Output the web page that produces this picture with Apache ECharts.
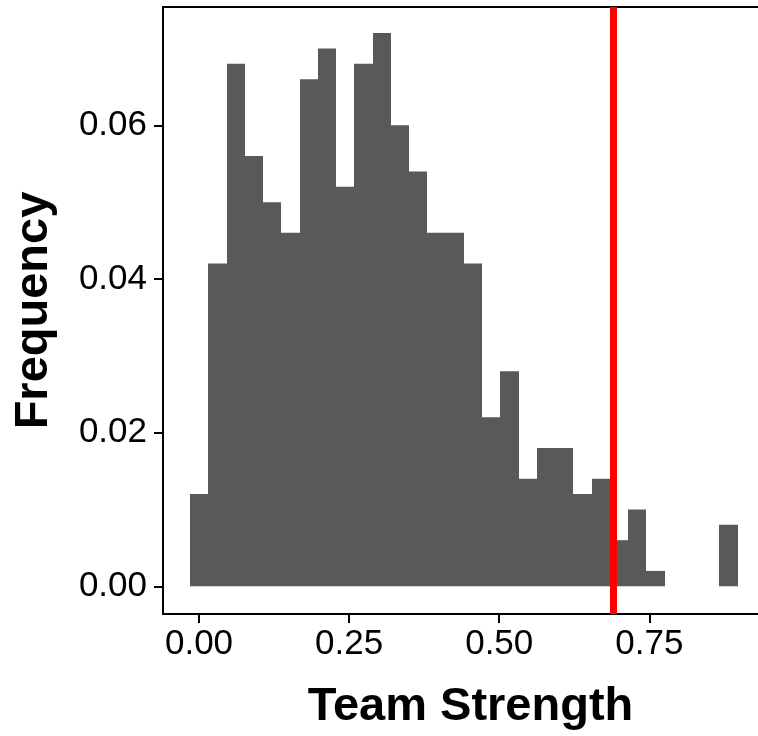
<!DOCTYPE html>
<html>
<head>
<meta charset="utf-8">
<script src="https://cdn.jsdelivr.net/npm/echarts@6/dist/echarts.min.js"></script>
<style>
  html, body {margin: 0; padding: 0; background: #fff;}
  #chart {width: 758px; height: 736px;}
</style>
</head>
<body>
<div id="chart"></div>
<script>
// histogram: 30 bins
const binStart = -0.0150;
const binWidth = 0.0304;
const frequency = [
  0.012, 0.042, 0.068, 0.056, 0.050, 0.046, 0.066, 0.070, 0.052, 0.068,
  0.072, 0.060, 0.054, 0.046, 0.046, 0.042, 0.022, 0.028, 0.014, 0.018,
  0.018, 0.012, 0.014, 0.006, 0.010, 0.002, 0, 0, 0, 0.008,
];
const markerValue = 0.689;
const xTicks = [0, 0.25, 0.5, 0.75];
const yTicks = [0, 0.02, 0.04, 0.06];

const fontFamily = '"Liberation Sans", Arial, sans-serif';

const binData = frequency.map((f, i) => [binStart + i * binWidth, binStart + (i + 1) * binWidth, f]);

const chart = echarts.init(document.getElementById('chart'), null, {renderer: 'canvas'});

// the panel runs up to the right edge of the picture, no right border
chart.setOption({
  animation: false,
  grid: {left: 163, right: 0, top: 7, bottom: 118, show: false, borderWidth: 0},
  xAxis: [{
    type: 'value',
    min: -0.06,
    max: 0.931,
    splitLine: {show: false},
    axisLine: {onZero: false, lineStyle: {color: '#000', width: 2}},
    axisTick: {customValues: xTicks, length: 9, lineStyle: {color: '#000', width: 2}},
    axisLabel: {
      customValues: xTicks,
      formatter: (v) => v.toFixed(2),
      color: '#000',
      fontSize: 35,
      fontFamily,
      margin: 13,
    },
    name: 'Team Strength',
    nameLocation: 'middle',
    nameGap: 70,
    nameTextStyle: {fontSize: 47, fontWeight: 'bold', color: '#000', fontFamily, padding: [0, 0, 0, 20]},
  }, {
    // top border of the panel
    type: 'value',
    position: 'top',
    min: -0.06,
    max: 0.931,
    splitLine: {show: false},
    axisLine: {show: true, onZero: false, lineStyle: {color: '#000', width: 2}},
    axisTick: {show: false},
    axisLabel: {show: false},
  }],
  yAxis: {
    type: 'value',
    min: -0.00361,
    max: 0.0754,
    splitLine: {show: false},
    axisLine: {show: true, onZero: false, lineStyle: {color: '#000', width: 2}},
    axisTick: {show: true, customValues: yTicks, length: 9, lineStyle: {color: '#000', width: 2}},
    axisLabel: {
      customValues: yTicks,
      formatter: (v) => v.toFixed(2),
      color: '#000',
      fontSize: 35,
      fontFamily,
      margin: 16,
    },
    name: 'Frequency',
    nameLocation: 'middle',
    nameGap: 105,
    nameTextStyle: {fontSize: 47, fontWeight: 'bold', color: '#000', fontFamily},
  },
  series: [{
    type: 'custom',
    xAxisIndex: 0,
    data: binData,
    renderItem: (params, api) => {
      const topLeft = api.coord([api.value(0), api.value(2)]);
      const bottomRight = api.coord([api.value(1), 0]);
      const x0 = Math.round(topLeft[0]);
      const x1 = Math.round(bottomRight[0]);
      return {
        type: 'rect',
        shape: {
          x: x0,
          y: topLeft[1],
          width: x1 - x0,
          height: bottomRight[1] - topLeft[1],
        },
        style: {fill: '#595959'},
      };
    },
    markLine: {
      silent: true,
      symbol: 'none',
      label: {show: false},
      lineStyle: {color: '#ff0000', width: 7, type: 'solid'},
      data: [{xAxis: markerValue}],
    },
  }],
});
</script>
</body>
</html>
